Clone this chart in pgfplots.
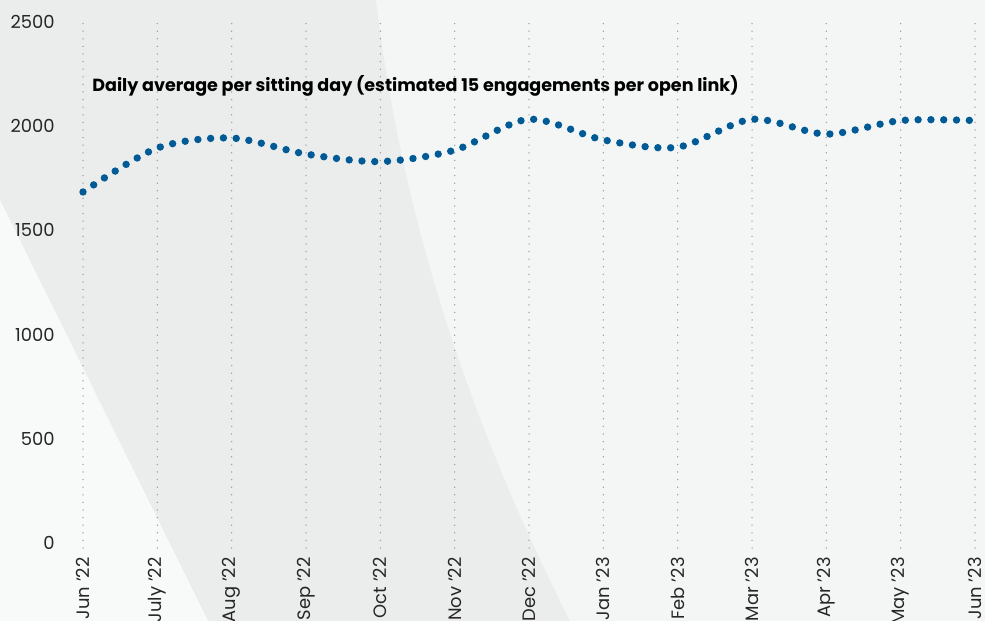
\documentclass[border=0pt]{standalone}
\usepackage{pgfplots}
\pgfplotsset{compat=1.18}
\usepackage{fontspec}
\setmainfont{Poppins}
\definecolor{bg}{HTML}{F4F6F6}
\definecolor{band}{HTML}{EBECEC}
\definecolor{lightbg}{HTML}{F8F9F9}
\definecolor{lineblue}{HTML}{005A96}
\definecolor{gridgray}{HTML}{9A9A9A}
\begin{document}
\begin{tikzpicture}
\begin{scope}
\clip (0,0) rectangle (492.5bp,310.5bp);
\fill[bg] (0,0) rectangle (492.5bp,310.5bp);
\fill[band] (0,310.5bp) -- (0,210.5bp) -- (104bp,0) -- (285bp,0) .. controls (232.45bp,103.5bp) and (200.1bp,207bp) .. (188bp,310.5bp) -- cycle;
\fill[lightbg] (0,0) -- (0,210.5bp) -- (104bp,0) -- cycle;
\begin{axis}[
  at={(41.5bp,36.5bp)}, anchor=south west,
  scale only axis, width=446bp, height=263bp,
  xmin=0, xmax=12, ymin=-25, ymax=2500,
  xtick={0,...,12},
  xticklabels={Jun '22,July '22,Aug '22,Sep '22,Oct '22,Nov '22,Dec '22,Jan '23,Feb '23,Mar '23,Apr '23,May '23,Jun '23},
  ytick={0,500,1000,1500,2000,2500},
  axis line style={draw=none},
  major tick length=0pt,
  xmajorgrids,
  major grid style={gridgray, line width=0.75bp, line cap=round, dash pattern=on 0pt off 3.8bp},
  ymajorgrids=false,
  /pgf/number format/assume math mode=true,
  /pgf/number format/1000 sep={},
  tick label style={font=\fontsize{9}{10}\selectfont, text=black!85},
  yticklabel style={anchor=east, inner sep=0pt, xshift=-14bp},
  xticklabel style={rotate=90, anchor=east, inner sep=0pt, xshift=-4.5bp},
  clip=false,
]
\addplot[lineblue, line width=3.7bp, line cap=round, dash pattern=on 0pt off 6.4bp, smooth] coordinates {
(0,1684) (1,1895) (2,1943) (3,1866) (4,1830) (5,1885) (6,2033) (7,1934) (8,1899) (9,2033) (10,1962) (11,2027) (12,2027)
};
\end{axis}
\node[anchor=base west, inner sep=0pt, font=\bfseries\fontsize{8.8}{10}\selectfont] at (46bp,264.5bp) {Daily average per sitting day (estimated 15 engagements per open link)};
\end{scope}
\pgfresetboundingbox
\useasboundingbox (0,0) rectangle (492.5bp,310.5bp);
\end{tikzpicture}
\end{document}
